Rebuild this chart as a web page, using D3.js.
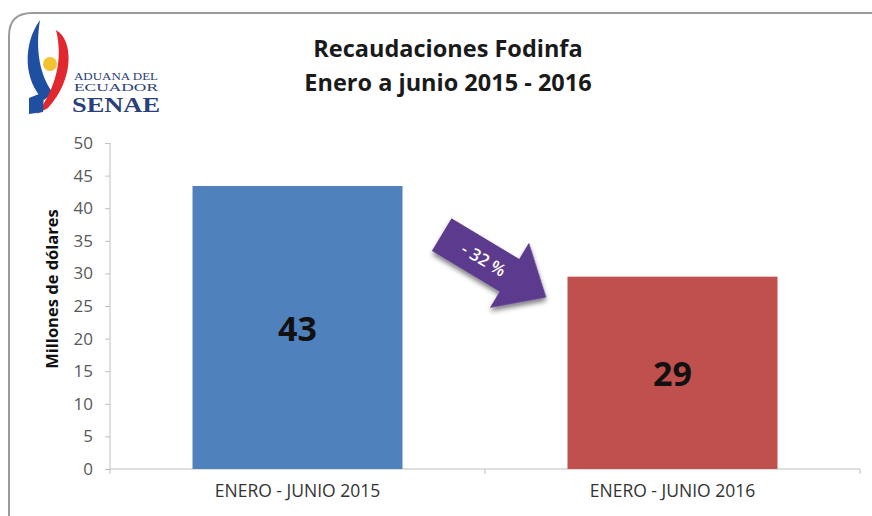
<!DOCTYPE html>
<html><head><meta charset="utf-8">
<script src="https://cdn.jsdelivr.net/npm/d3@7/dist/d3.min.js"></script>
<style>body{margin:0;background:#fff}svg{display:block}</style>
</head><body>
<svg id="c" width="872" height="516"></svg>
<script>
const categories = ["ENERO - JUNIO 2015", "ENERO - JUNIO 2016"];
const values = [43.4, 29.5];
const valueLabels = ["43", "29"];
const colors = ["#4f81bd", "#c0504d"];
const yTicks = [0, 5, 10, 15, 20, 25, 30, 35, 40, 45, 50];
const titleLines = ["Recaudaciones Fodinfa", "Enero a junio 2015 - 2016"];
const changeLabel = "- 32 %";

const svg = d3.select("#c");
const font = "'Open Sans', sans-serif";

// frame
svg.append("path")
  .attr("d", "M9,516 L9,36 Q9,13 32,13 L872,13")
  .attr("fill", "none").attr("stroke", "#9a9a9a").attr("stroke-width", 2);

const x = d3.scaleBand().domain(categories).range([110, 860]).paddingInner(0.44).paddingOuter(0.22);
const y = d3.scaleLinear().domain([0, 50]).range([469, 143]);

// y axis
const yAxis = svg.append("g").attr("transform", "translate(110,0)")
  .call(d3.axisLeft(y).tickValues(yTicks).tickSize(5).tickPadding(12));
yAxis.select(".domain").attr("stroke", "#bfbfbf").attr("d", "M0," + y(50) + "V" + y(0));
yAxis.selectAll(".tick line").attr("stroke", "#bfbfbf");
yAxis.selectAll(".tick text").attr("fill", "#595959").style("font-family", font).style("font-size", "17px");

// x axis
const xAxis = svg.append("g").attr("transform", "translate(0," + y(0) + ")")
  .call(d3.axisBottom(x).tickSize(0).tickPadding(16));
xAxis.select(".domain").attr("stroke", "#bfbfbf").attr("d", "M110,0H860");
xAxis.selectAll(".tick text").attr("fill", "#333").style("font-family", font).style("font-size", "17.5px");
// category separator ticks
const seps = [110, (x(categories[0]) + x.bandwidth() + x(categories[1])) / 2, 860];
svg.append("g").selectAll("line").data(seps).join("line")
  .attr("x1", d => d).attr("x2", d => d).attr("y1", y(0)).attr("y2", y(0) + 5)
  .attr("stroke", "#bfbfbf");

// bars
svg.append("g").selectAll("rect").data(values).join("rect")
  .attr("x", (d, i) => x(categories[i]))
  .attr("y", d => y(d))
  .attr("width", x.bandwidth())
  .attr("height", d => y(0) - y(d))
  .attr("fill", (d, i) => colors[i]);

// value labels
svg.append("g").selectAll("text").data(values).join("text")
  .attr("x", (d, i) => x(categories[i]) + x.bandwidth() / 2)
  .attr("y", d => (y(d) + y(0)) / 2 + 13)
  .attr("text-anchor", "middle")
  .style("font-family", font).style("font-weight", "bold").style("font-size", "34px")
  .attr("fill", "#111")
  .text((d, i) => valueLabels[i]);

// y title
svg.append("text")
  .attr("transform", "translate(58,289) rotate(-90)")
  .attr("text-anchor", "middle")
  .style("font-family", font).style("font-weight", "bold").style("font-size", "16.5px")
  .attr("fill", "#111").text("Millones de dólares");

// title
svg.append("g").selectAll("text").data(titleLines).join("text")
  .attr("x", 448).attr("y", (d, i) => 57 + i * 34)
  .attr("text-anchor", "middle")
  .style("font-family", font).style("font-weight", "bold").style("font-size", "23.5px")
  .attr("fill", "#1a1a1a").text(d => d);

// arrow
const defs = svg.append("defs");
const f = defs.append("filter").attr("id", "sh").attr("x", "-20%").attr("y", "-20%").attr("width", "150%").attr("height", "150%");
f.append("feGaussianBlur").attr("in", "SourceAlpha").attr("stdDeviation", 2.5);
f.append("feOffset").attr("dx", 2).attr("dy", 3).attr("result", "b");
f.append("feComponentTransfer").append("feFuncA").attr("type", "linear").attr("slope", 0.5);
const fm = f.append("feMerge"); fm.append("feMergeNode"); fm.append("feMergeNode").attr("in", "SourceGraphic");

const ag = svg.append("g").attr("transform", "translate(494,266) rotate(31)");
ag.append("path")
  .attr("d", "M-61,-19 L18,-19 L18,-38 L61,0 L18,38 L18,19 L-61,19 Z")
  .attr("fill", "#5b3a8e").attr("filter", "url(#sh)");
ag.append("text").attr("x", -12).attr("y", 6).attr("text-anchor", "middle")
  .style("font-family", font).style("font-weight", "600").style("font-size", "17px").attr("fill", "#fff").text(changeLabel);

// logo
const lg = svg.append("g");
lg.append("path").attr("d", "M40,20 C22,45 24,82 44,100 L53,93 C40,76 35,50 40,20 Z").attr("fill", "#1f4fa0");
lg.append("path").attr("d", "M56,30 C74,40 74,80 48,108 L37,114 C57,86 63,58 56,30 Z").attr("fill", "#e0282e");
lg.append("circle").attr("cx", 50).attr("cy", 64).attr("r", 7).attr("fill", "#f2c230");
lg.append("path").attr("d", "M29,98 L44,92 L43,112 L29,114 Z").attr("fill", "#1f4fa0");
const serif = "'Liberation Serif', 'DejaVu Serif', serif";
lg.append("text").attr("x", 74).attr("y", 80).attr("textLength", 84).attr("lengthAdjust", "spacingAndGlyphs")
  .style("font-family", serif).style("font-size", "10px").attr("fill", "#2b3f7a").text("ADUANA DEL");
lg.append("text").attr("x", 74).attr("y", 91).attr("textLength", 84).attr("lengthAdjust", "spacingAndGlyphs")
  .style("font-family", serif).style("font-size", "10px").attr("fill", "#2b3f7a").text("ECUADOR");
lg.append("text").attr("x", 72).attr("y", 112).attr("textLength", 88).attr("lengthAdjust", "spacingAndGlyphs")
  .style("font-family", serif).style("font-weight", "bold").style("font-size", "20px").attr("fill", "#2b3f7a").text("SENAE");
</script>
</body></html>
